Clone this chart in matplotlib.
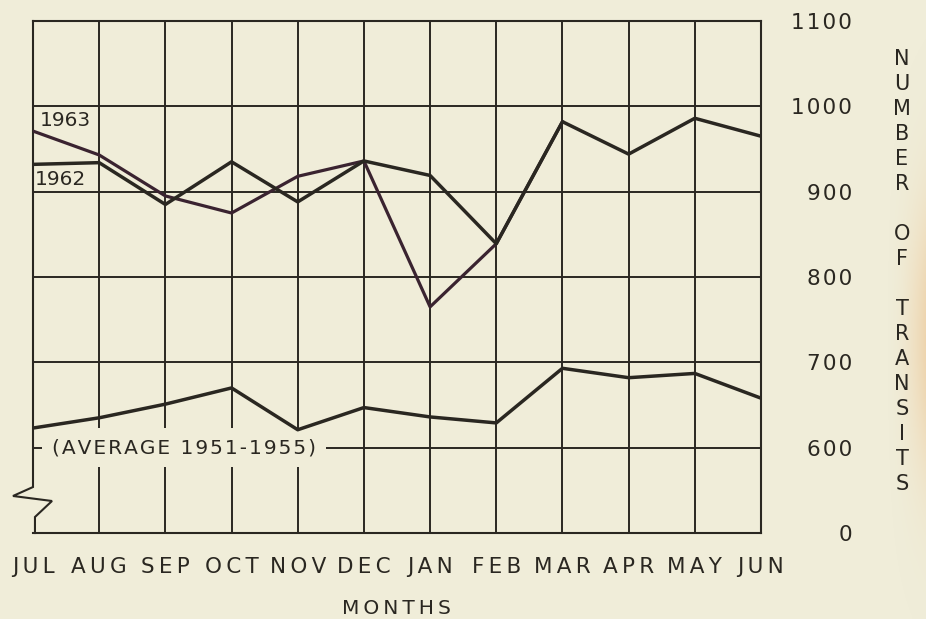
import numpy as np
import matplotlib
matplotlib.use("Agg")
import matplotlib.pyplot as plt

# monthly transits, fiscal year Jul-Jun
months = ["JUL", "AUG", "SEP", "OCT", "NOV", "DEC",
          "JAN", "FEB", "MAR", "APR", "MAY", "JUN"]
fy1962 = [932, 934, 885, 935, 888, 936, 919, 839, 982, 944, 986, 965]
fy1963 = [971, 943, 895, 875, 918, 936, 765, 839, 982]
avg_51_55 = [623, 635, 651, 670, 621, 647, 636, 629, 693, 682, 687, 658]

y_ticks = [500, 600, 700, 800, 900, 1000, 1100]
y_labels = ["0", "600", "700", "800", "900", "1000", "1100"]
axis_title = "NUMBER OF TRANSITS"

BG = "#f0edd9"
INK = "#2a2721"
PLUM = "#3a2330"
HAIR = "\u200a"

plt.rcParams["font.family"] = ["DejaVu Sans"]


def spaced(s, n=1):
    # lettering on the original is widely tracked
    return (HAIR * n).join(s)


W, H = 926, 619
fig = plt.figure(figsize=(W / 100, H / 100), dpi=100, facecolor=BG)

# faint peach stain at the right edge of the scan
glow = fig.add_axes([0.955, 0.0, 0.045, 1.0], zorder=-5)
gx = np.linspace(0, 1, 40)
gy = np.linspace(0, 1, 200)
X, Y = np.meshgrid(gx, gy)
alpha = (X ** 2) * np.exp(-((Y - 0.55) / 0.22) ** 2) * 0.55
img = np.zeros((200, 40, 4))
img[..., 0] = 0.93
img[..., 1] = 0.76
img[..., 2] = 0.55
img[..., 3] = alpha
glow.imshow(img, aspect="auto", extent=(0, 1, 0, 1))
glow.axis("off")

ax = fig.add_axes([33 / W, 1 - 533 / H, 728 / W, 512 / H])
ax.set_facecolor(BG)

x = np.arange(len(months))
ax.set_xlim(0, len(months) - 1)
ax.set_ylim(500, 1100)

# grid
ax.set_yticks(y_ticks)
ax.set_yticklabels([spaced(s) for s in y_labels])
ax.grid(axis="y", color=INK, linewidth=1.4, zorder=1)
for i in x[1:-1]:
    ax.axvline(i, color=INK, linewidth=1.4, zorder=1)

for side in ["top", "right", "bottom"]:
    ax.spines[side].set_color(INK)
    ax.spines[side].set_linewidth(1.5)
ax.spines["left"].set_visible(False)

# broken left edge
zig_x = [0, 0, -0.0275, 0.0261, 0.0027, 0.0027]
zig_y = [1, 0.0898, 0.0723, 0.0625, 0.03125, 0]
ax.plot(zig_x, zig_y, transform=ax.transAxes, color=INK, linewidth=1.5,
        clip_on=False, zorder=3, solid_joinstyle="miter")

# data
ax.plot(x[:len(fy1963)], fy1963, color=PLUM, linewidth=2.3, zorder=4)
ax.plot(x, fy1962, color=INK, linewidth=2.5, zorder=5)
ax.plot(x, avg_51_55, color=INK, linewidth=2.5, zorder=5)

ax.text(0.1, 983, "1963", fontsize=14.5, color=INK, va="center", ha="left", zorder=6)
ax.text(0.03, 914, "1962", fontsize=14.5, color=INK, va="center", ha="left", zorder=6)
ax.text(0.29, 600, spaced("(AVERAGE 1951-1955)"), fontsize=14.5, color=INK,
        va="center", ha="left", zorder=3,
        bbox=dict(boxstyle="square,pad=0.5", facecolor=BG, edgecolor="none"))

# ticks
ax.set_xticks(x)
ax.set_xticklabels([spaced(m, 2) for m in months])
ax.tick_params(axis="x", length=0, pad=17, labelsize=15.5, colors=INK)
ax.yaxis.tick_right()
ax.tick_params(axis="y", length=0, pad=65.5, labelsize=15.5, colors=INK)
for lbl in ax.get_yticklabels():
    lbl.set_horizontalalignment("right")

fig.text(396 / W, 1 - 608 / H, spaced("MONTHS", 2), fontsize=14.5, color=INK,
         ha="center", va="center")

# stacked axis title on the right
step = 25.0
row = 0
for ch in axis_title:
    if ch == " ":
        row += 1
        continue
    fig.text(902 / W, 1 - (59 + row * step) / H, ch, fontsize=15,
             color=INK, ha="center", va="center")
    row += 1

fig.savefig("out.png", dpi=100, facecolor=BG)
